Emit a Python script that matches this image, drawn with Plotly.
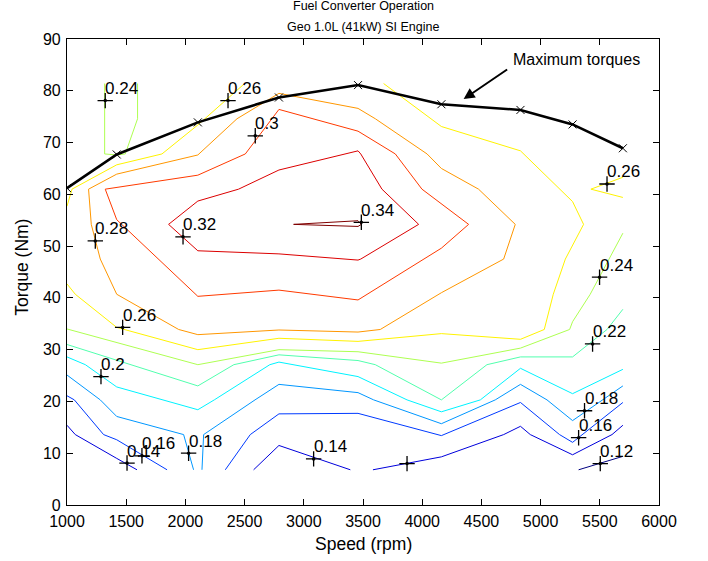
import plotly.graph_objects as go

# ---------------- data (speed in rpm, torque in Nm) ----------------
levels = [0.12, 0.14, 0.16, 0.18, 0.20, 0.22, 0.24, 0.26, 0.28, 0.30, 0.32, 0.34]

c034_spd = [2914, 3458, 3486, 3458, 2914]
c034_trq = [54.2, 54.9, 54.2, 53.8, 54.2]

c032_spd = [1858, 2105, 2449, 2790, 3458, 3481, 3660, 3970, 3481, 3458, 2790, 2105, 1858]
c032_trq = [54.2, 58.7, 61.0, 64.7, 68.4, 67.8, 61.0, 54.2, 47.5, 47.3, 48.5, 49.1, 54.2]

c030_spd = [2790, 2506, 2105, 1323, 1420, 2105, 2790, 3458, 4162, 4392, 3998, 3773, 3458, 2790]
c030_trq = [76.4, 67.8, 63.7, 61.0, 55.1, 40.3, 41.5, 39.6, 49.6, 54.2, 61.0, 67.8, 72.2, 76.4]

c028_spd = [2790, 3458, 3604, 4041, 4162, 4476, 4786, 4688, 4162, 3646, 3458, 2790, 2105, 1943,
            1420, 1281, 1205, 1182, 1420, 2105, 2436, 2790]
c028_trq = [79.5, 76.6, 74.6, 67.8, 65.0, 61.0, 54.2, 47.5, 41.0, 33.9, 33.4, 33.8, 32.9, 33.9,
            40.7, 47.5, 54.2, 61.0, 63.9, 67.6, 74.6, 79.5]

c026a_spd = [2500, 2105, 1802, 1420, 1042, 1000]
c026a_trq = [81.4, 73.4, 67.8, 65.7, 61.0, 57.7]
c026b_spd = [3674, 4067, 4162, 4830, 5270, 5363, 5209, 5107, 5031, 4830, 4162, 3458, 2790, 2105,
             1478, 1420, 1070, 1000]
c026b_trq = [81.4, 74.6, 73.1, 68.4, 58.6, 54.2, 47.5, 40.7, 33.9, 32.0, 33.1, 31.6, 32.2, 30.0,
             33.9, 34.3, 40.7, 42.7]
c026c_spd = [5695, 5425, 5695]
c026c_trq = [63.3, 61.0, 59.4]

c024a_spd = [1318, 1318, 1318, 1420, 1492, 1596, 1596]
c024a_trq = [81.4, 74.6, 67.8, 67.6, 67.8, 74.6, 81.4]
c024b_spd = [1000, 2105, 2790, 3458, 4162, 4830, 5245, 5270, 5419, 5695]
c024b_trq = [34.0, 27.1, 30.0, 29.6, 27.4, 30.3, 33.9, 35.4, 40.7, 52.5]

c022_spd = [1000, 2105, 2409, 2790, 3458, 3604, 4162, 4547, 4830, 5270, 5561, 5695]
c022_trq = [31.0, 23.0, 27.1, 29.0, 27.9, 27.1, 20.3, 27.1, 28.6, 28.6, 33.9, 37.8]

c020_spd = [1000, 1155, 1420, 2105, 2244, 2713, 2790, 3458, 3872, 4162, 4491, 4830, 5270, 5695]
c020_trq = [28.6, 27.1, 22.8, 18.4, 20.3, 27.1, 27.6, 24.8, 20.3, 18.0, 20.3, 26.4, 21.5, 26.2]

c018a_spd = [1000, 1281, 1420, 1985, 2069]
c018a_trq = [25.1, 20.3, 17.1, 13.6, 6.8]
c018b_spd = [2140, 2154, 2588, 2790, 3458, 3590, 4162, 4617, 4830, 5054, 5270, 5695]
c018b_trq = [6.8, 13.6, 20.3, 23.3, 21.7, 20.3, 15.7, 20.3, 23.3, 20.3, 16.3, 23.0]

c016a_spd = [1000, 1062, 1309, 1420, 1845]
c016a_trq = [21.1, 20.3, 13.6, 12.6, 6.8]
c016b_spd = [2337, 2548, 2790, 3458, 4162, 4830, 5160, 5270, 5695]
c016b_trq = [6.8, 13.6, 17.6, 17.7, 13.4, 19.8, 13.6, 12.1, 19.8]

c014a_spd = [1000, 1070, 1420, 1591]
c014a_trq = [15.4, 13.6, 9.0, 6.8]
c014b_spd = [2576, 2790, 3393]
c014b_trq = [6.8, 11.5, 6.8]
c014c_spd = [3584, 4162, 4688, 4830, 4913, 5270, 5603, 5695]
c014c_trq = [6.8, 9.3, 13.6, 15.2, 13.6, 9.7, 13.6, 15.4]

c012_spd = [5321, 5695]
c012_trq = [6.8, 9.4]

max_trq_spd = [1000, 1420, 2105, 2790, 3458, 4162, 4830, 5270, 5695]
max_trq_val = [61.2, 67.7, 73.9, 78.7, 81.1, 77.4, 76.3, 73.5, 68.9]

label_spd = [1323, 2360, 2590, 1239, 1980, 3486, 1470, 1287, 1507, 1633, 2027, 3083, 3872,
             5561, 5498, 5439, 5371, 5321, 5504]
label_trq = [78.1, 78.1, 71.3, 51.0, 51.8, 54.6, 34.3, 24.8, 8.1, 9.5, 10.0, 8.9, 8.0,
             62.0, 44.0, 31.1, 18.2, 13.0, 8.0]
label_txt = ["0.24", "0.26", "0.3", "0.28", "0.32", "0.34", "0.26", "0.2", "0.14", "0.16", "0.18",
             "0.14", "", "0.26", "0.24", "0.22", "0.18", "0.16", "0.12"]

segments = [
    (0.12, c012_spd, c012_trq),
    (0.14, c014a_spd, c014a_trq), (0.14, c014b_spd, c014b_trq), (0.14, c014c_spd, c014c_trq),
    (0.16, c016a_spd, c016a_trq), (0.16, c016b_spd, c016b_trq),
    (0.18, c018a_spd, c018a_trq), (0.18, c018b_spd, c018b_trq),
    (0.20, c020_spd, c020_trq),
    (0.22, c022_spd, c022_trq),
    (0.24, c024a_spd, c024a_trq), (0.24, c024b_spd, c024b_trq),
    (0.26, c026a_spd, c026a_trq), (0.26, c026b_spd, c026b_trq), (0.26, c026c_spd, c026c_trq),
    (0.28, c028_spd, c028_trq),
    (0.30, c030_spd, c030_trq),
    (0.32, c032_spd, c032_trq),
    (0.34, c034_spd, c034_trq),
]


# ---------------- styling ----------------
def jet(t):
    def c(v):
        return max(0.0, min(1.0, v))
    r = c(1.5 - abs(4 * t - 3))
    g = c(1.5 - abs(4 * t - 2))
    b = c(1.5 - abs(4 * t - 1))
    return "rgb(%d,%d,%d)" % (round(r * 255), round(g * 255), round(b * 255))


lo, hi = min(levels), max(levels)
FONT = "Liberation Sans, Arial, Helvetica, sans-serif"

fig = go.Figure()

for lev, xs, ys in segments:
    fig.add_trace(go.Scatter(
        x=xs, y=ys, mode="lines",
        line=dict(color=jet((lev - lo) / (hi - lo)), width=1),
        hoverinfo="skip", showlegend=False))

fig.add_trace(go.Scatter(
    x=max_trq_spd, y=max_trq_val, mode="lines+markers",
    line=dict(color="black", width=2.6),
    marker=dict(symbol="x-thin", size=8, line=dict(color="black", width=1)),
    showlegend=False, hoverinfo="skip"))

fig.add_trace(go.Scatter(
    x=label_spd, y=label_trq, mode="markers",
    marker=dict(symbol="cross-thin", size=11, line=dict(color="black", width=1.3)),
    showlegend=False, hoverinfo="skip"))
fig.add_trace(go.Scatter(
    x=label_spd, y=label_trq, mode="markers",
    marker=dict(symbol="circle", size=3.5, color="black"),
    showlegend=False, hoverinfo="skip"))

annotations = []
for xs, ys, t in zip(label_spd, label_trq, label_txt):
    if t:
        annotations.append(dict(
            x=xs, y=ys, xref="x", yref="y", text=t, showarrow=False,
            xanchor="left", yanchor="middle", xshift=-1, yshift=12, borderpad=0,
            font=dict(family=FONT, size=17, color="black")))

# Maximum torques annotation
annotations.append(dict(x=5306, y=86.0, xref="x", yref="y", text="Maximum torques",
                        showarrow=False, xanchor="center", yanchor="middle",
                        font=dict(family=FONT, size=16, color="black")))
annotations.append(dict(x=4350, y=78.4, ax=4730, ay=84.3, xref="x", yref="y",
                        axref="x", ayref="y", text="", showarrow=True,
                        arrowhead=2, arrowsize=1.1, arrowwidth=2, arrowcolor="black",
                        standoff=0, startstandoff=0))

# titles
annotations.append(dict(x=0.5, y=1, xref="paper", yref="paper", text="Fuel Converter Operation",
                        showarrow=False, xanchor="center", yanchor="middle", yshift=33,
                        font=dict(family=FONT, size=12.5, color="black")))
annotations.append(dict(x=0.5, y=1, xref="paper", yref="paper", text="Geo 1.0L (41kW) SI Engine",
                        showarrow=False, xanchor="center", yanchor="middle", yshift=12,
                        font=dict(family=FONT, size=12.5, color="black")))
annotations.append(dict(x=0.5, y=0, xref="paper", yref="paper", text="Speed (rpm)",
                        showarrow=False, xanchor="center", yanchor="middle", yshift=-39,
                        font=dict(family=FONT, size=17.5, color="black")))
annotations.append(dict(x=0, y=0.509, xref="paper", yref="paper", text="Torque (Nm)",
                        showarrow=False, xanchor="center", yanchor="middle", xshift=-45,
                        textangle=-90, font=dict(family=FONT, size=17.5, color="black")))

fig.update_layout(
    width=708, height=561,
    margin=dict(l=67, r=49, t=39, b=56),
    paper_bgcolor="white", plot_bgcolor="white",
    annotations=annotations,
    showlegend=False,
)
axis_common = dict(showline=True, linecolor="black", linewidth=1.2, mirror="ticks",
                   ticks="inside", ticklen=6, tickwidth=1, tickcolor="black",
                   showgrid=False, zeroline=False,
                   tickfont=dict(family=FONT, size=16, color="black"))
fig.update_xaxes(range=[1000, 6000], tickmode="array", ticklabelstandoff=2,
                 tickvals=list(range(1000, 6001, 500)), **axis_common)
fig.update_yaxes(range=[0, 90], tickmode="array", ticklabelstandoff=2,
                 tickvals=list(range(0, 91, 10)), **axis_common)

fig.write_html("out.html",
               config={"displayModeBar": False},
               post_script="document.body.style.margin='0px';"
                           "document.body.style.overflow='hidden';")
